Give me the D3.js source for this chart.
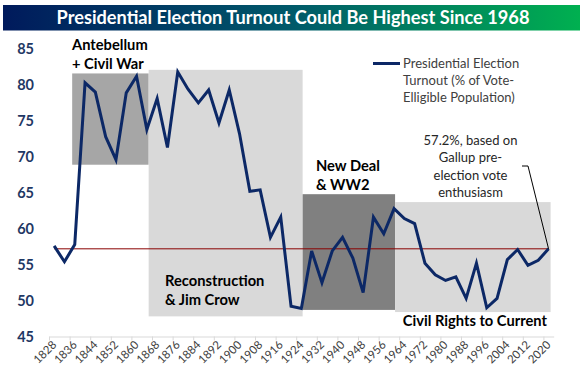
<!DOCTYPE html>
<html>
<head>
<meta charset="utf-8">
<script src="https://cdn.jsdelivr.net/npm/d3@7"></script>
<style>
  body { margin: 0; background: #fff; }
  svg { display: block; font-family: Lato, "Open Sans", sans-serif; }
</style>
</head>
<body>
<svg id="chart" width="586" height="383"></svg>
<script>
// ----------- DATA -----------
var years = [1828, 1832, 1836, 1840, 1844, 1848, 1852, 1856, 1860, 1864,
  1868, 1872, 1876, 1880, 1884, 1888, 1892, 1896, 1900, 1904,
  1908, 1912, 1916, 1920, 1924, 1928, 1932, 1936, 1940, 1944,
  1948, 1952, 1956, 1960, 1964, 1968, 1972, 1976, 1980, 1984,
  1988, 1992, 1996, 2000, 2004, 2008, 2012, 2016, 2020];

// turnout, % of vote-eligible population
var turnout = [57.6, 55.4, 57.8, 80.3, 79.0, 72.8, 69.6, 78.9, 81.2, 73.8,
  78.1, 71.3, 81.8, 79.4, 77.5, 79.3, 74.7, 79.3, 73.2, 65.2,
  65.4, 58.8, 61.6, 49.2, 48.9, 56.9, 52.5, 56.9, 58.8, 55.9,
  51.1, 61.6, 59.3, 62.8, 61.4, 60.7, 55.2, 53.6, 52.8, 53.3,
  50.3, 55.2, 49.0, 50.3, 55.7, 57.1, 54.9, 55.6, 57.2];

var tickLabels = ["1828", "1836", "1844", "1852", "1860", "1868", "1876", "1884", "1892",
  "1900", "1908", "1916", "1924", "1932", "1940", "1948", "1956", "1964", "1972",
  "1980", "1988", "1996", "2004", "2012", "2020"];

var yTicks = [45, 50, 55, 60, 65, 70, 75, 80, 85];

// shaded eras: year span and value span
var eraNames = [["Antebellum", "+ Civil War"], ["Reconstruction", "& Jim Crow"],
  ["New Deal", "& WW2"], ["Civil Rights to Current"]];
var eraFrom = [1835, 1864.7, 1924.5, 1960.4];
var eraTo = [1864.7, 1924.5, 1960.4, 2020.8];
var eraLow = [68.9, 47.8, 48.7, 48.4];
var eraHigh = [81.6, 82.1, 64.8, 63.7];

var gallupEstimate = 57.2;
var legendLines = ["Presidential Election", "Turnout (% of Vote-", "Elligible Population)"];
var noteLines = ["57.2%, based on", "Gallup pre-", "election vote", "enthusiasm"];
// --------- END DATA ---------

var svg = d3.select("#chart");
var navy = "#0c2866";
var eraFill = ["#a6a6a6", "#d9d9d9", "#808080", "#d9d9d9"];

// scales (each 4-year election is one category slot)
var x = d3.scaleLinear().domain([1826, 2022]).range([49, 553.7]);
var y = d3.scaleLinear().domain([45, 85]).range([336.5, 49]);

// ----------- TITLE BAR -----------
var grad = svg.append("defs").append("linearGradient")
  .attr("id", "titleGrad")
  .attr("x1", "0%").attr("x2", "100%");
grad.append("stop").attr("offset", "0%").attr("stop-color", "#001a5c");
grad.append("stop").attr("offset", "50%").attr("stop-color", "#00596a");
grad.append("stop").attr("offset", "100%").attr("stop-color", "#00b050");

svg.append("rect")
  .attr("x", 3).attr("y", 5)
  .attr("width", 577).attr("height", 25.5)
  .attr("fill", "url(#titleGrad)");

svg.append("text")
  .attr("x", 293).attr("y", 23.5)
  .attr("text-anchor", "middle")
  .attr("fill", "#fff")
  .style("font-size", "18.2px")
  .style("font-weight", "bold")
  .text("Presidential Election Turnout Could Be Highest Since 1968");

// ----------- ERA BOXES -----------
svg.append("g")
  .selectAll("rect")
  .data(eraFrom)
  .enter()
  .append("rect")
  .attr("x", function(d) { return x(d); })
  .attr("width", function(d, i) { return x(eraTo[i]) - x(d); })
  .attr("y", function(d, i) { return y(eraHigh[i]); })
  .attr("height", function(d, i) { return y(eraLow[i]) - y(eraHigh[i]); })
  .attr("fill", function(d, i) { return eraFill[i]; });

// era labels
var eraLabelPos = [
  { x: 72, y: 49.5, anchor: "start" },
  { x: 165, y: 285.5, anchor: "start" },
  { x: 316, y: 170.5, anchor: "start" },
  { x: 547, y: 325.5, anchor: "end" }
];
eraNames.forEach(function(lines, i) {
  var t = svg.append("text")
    .attr("x", eraLabelPos[i].x)
    .attr("y", eraLabelPos[i].y)
    .attr("text-anchor", eraLabelPos[i].anchor)
    .attr("fill", "#000")
    .style("font-size", "14.7px")
    .style("font-weight", "bold");
  lines.forEach(function(l, j) {
    t.append("tspan")
      .attr("x", eraLabelPos[i].x)
      .attr("dy", j === 0 ? 0 : 19.5)
      .text(l);
  });
});

// ----------- Y AXIS -----------
svg.append("g")
  .selectAll("text")
  .data(yTicks)
  .enter()
  .append("text")
  .attr("x", 34)
  .attr("y", function(d) { return y(d); })
  .attr("dy", "0.35em")
  .attr("text-anchor", "end")
  .attr("fill", "#1f3864")
  .style("font-size", "14.5px")
  .style("font-weight", "bold")
  .text(function(d) { return d; });

// ----------- X AXIS -----------
var boundaries = tickLabels.map(function(d) { return +d - 2; });
var xAxis = svg.append("g")
  .attr("transform", "translate(0," + y(45) + ")")
  .call(d3.axisBottom(x).tickValues(boundaries).tickSize(4).tickFormat("").tickSizeOuter(0));
xAxis.selectAll("path, line").attr("stroke", "#d9d9d9");

svg.append("g")
  .selectAll("text")
  .data(tickLabels)
  .enter()
  .append("text")
  .attr("transform", function(d) {
    return "translate(" + (x(+d) + 3) + "," + (y(45) + 9) + ") rotate(-45)";
  })
  .attr("text-anchor", "end")
  .attr("fill", "#404040")
  .style("font-size", "11.5px")
  .text(function(d) { return d; });

// ----------- 57.2% REFERENCE LINE -----------
svg.append("line")
  .attr("x1", x(years[0])).attr("x2", x(years[years.length - 1]))
  .attr("y1", y(gallupEstimate)).attr("y2", y(gallupEstimate))
  .attr("stroke", "#8a0000")
  .attr("stroke-width", 1);

// ----------- TURNOUT LINE -----------
var line = d3.line()
  .x(function(d, i) { return x(years[i]); })
  .y(function(d) { return y(d); });

svg.append("path")
  .datum(turnout)
  .attr("d", line)
  .attr("fill", "none")
  .attr("stroke", navy)
  .attr("stroke-width", 3)
  .attr("stroke-linejoin", "miter");

// ----------- LEGEND -----------
svg.append("line")
  .attr("x1", 373).attr("x2", 400)
  .attr("y1", 63.5).attr("y2", 63.5)
  .attr("stroke", navy)
  .attr("stroke-width", 3);

var legend = svg.append("text")
  .attr("fill", "#404040")
  .style("font-size", "13px");
legendLines.forEach(function(l, j) {
  legend.append("tspan")
    .attr("x", 403)
    .attr("y", 67.5 + j * 17)
    .text(l);
});

// ----------- GALLUP NOTE -----------
var note = svg.append("text")
  .attr("fill", "#262626")
  .attr("text-anchor", "middle")
  .style("font-size", "13px");
noteLines.forEach(function(l, j) {
  note.append("tspan")
    .attr("x", 470.5)
    .attr("y", 144.5 + j * 17.5)
    .text(l);
});

svg.append("polyline")
  .attr("points", [[522, 166], [528, 166], [x(2020), y(gallupEstimate)]].join(" "))
  .attr("fill", "none")
  .attr("stroke", "#000")
  .attr("stroke-width", 1);
</script>
</body>
</html>
